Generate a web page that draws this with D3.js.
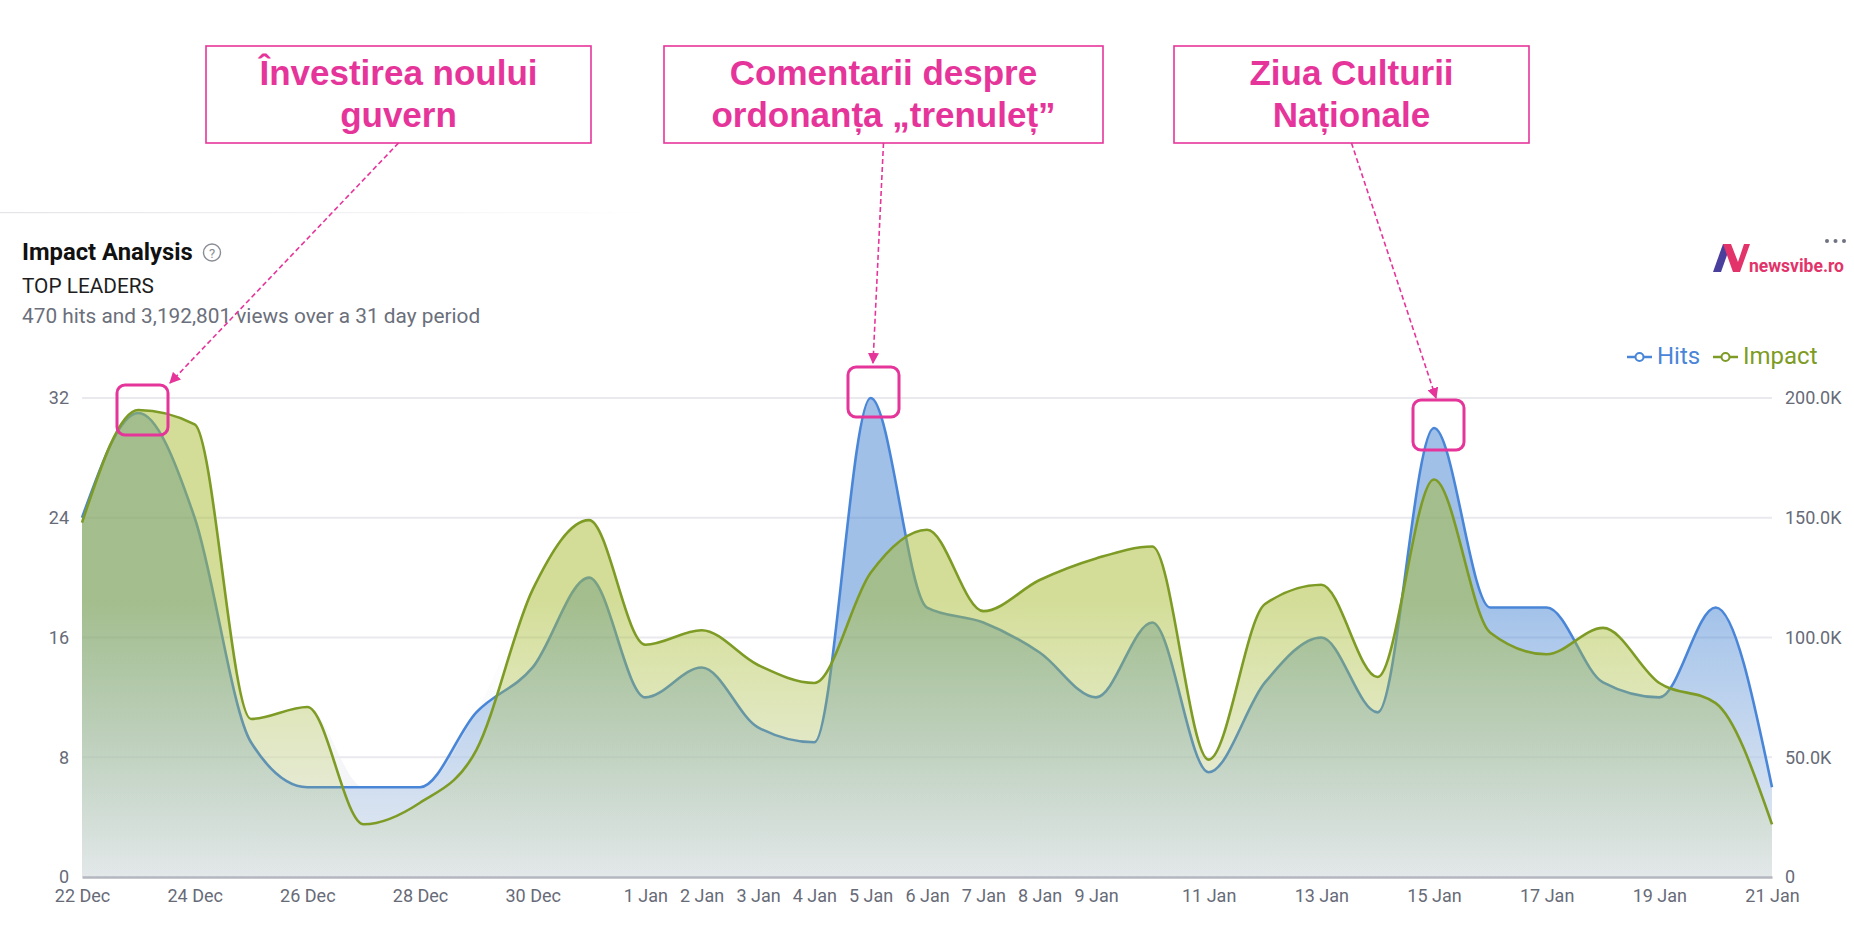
<!DOCTYPE html>
<html>
<head>
<meta charset="utf-8">
<script src="https://cdn.jsdelivr.net/npm/d3@7"></script>
<style>
  html, body { margin: 0; padding: 0; background: #ffffff; }
  svg { display: block; }
</style>
</head>
<body>
<svg id="chart" width="1854" height="930"></svg>
<script>
// ---------- DATA ----------
const dates = ["2024-12-22","2024-12-23","2024-12-24","2024-12-25","2024-12-26","2024-12-27","2024-12-28",
  "2024-12-29","2024-12-30","2024-12-31","2025-01-01","2025-01-02","2025-01-03","2025-01-04","2025-01-05",
  "2025-01-06","2025-01-07","2025-01-08","2025-01-09","2025-01-10","2025-01-11","2025-01-12","2025-01-13",
  "2025-01-14","2025-01-15","2025-01-16","2025-01-17","2025-01-18","2025-01-19","2025-01-20","2025-01-21"];
const hits = [24,31,24,9,6,6,6,11,14,20,12,14,10,9,32,18,17,15,12,17,7,13,16,11,30,18,18,13,12,18,6];
const impact = [148000,195000,189000,66000,71000,22000,31000,53000,120000,149000,97000,103000,88500,81000,127000,
  145000,111000,124000,133000,138000,49000,114000,122000,83500,166000,102000,93000,104000,81000,72600,22000];
const xTickDates = ["2024-12-22","2024-12-24","2024-12-26","2024-12-28","2024-12-30","2025-01-01","2025-01-02",
  "2025-01-03","2025-01-04","2025-01-05","2025-01-06","2025-01-07","2025-01-08","2025-01-09","2025-01-11",
  "2025-01-13","2025-01-15","2025-01-17","2025-01-19","2025-01-21"];
const hitsTicks = [0, 8, 16, 24, 32];
const impactTicks = [0, 50000, 100000, 150000, 200000];
const seriesNames = ["Hits", "Impact"];
const annotations = [
  { lines: ["Învestirea noului", "guvern"], dateIdx: 1 },
  { lines: ["Comentarii despre", "ordonanța „trenuleț”"], dateIdx: 14 },
  { lines: ["Ziua Culturii", "Naționale"], dateIdx: 24 }
];

// ---------- SETUP ----------
const svg = d3.select("#chart");
const parse = d3.utcParse("%Y-%m-%d");
const data = dates.map((d, i) => ({ date: parse(d), hits: hits[i], impact: impact[i] }));

const plot = { left: 82, right: 1772, top: 398, bottom: 877 };
const x = d3.scaleUtc().domain([parse(dates[0]), parse(dates[dates.length - 1])]).range([plot.left, plot.right]);
const yL = d3.scaleLinear().domain([0, 32]).range([plot.bottom, plot.top]);
const yR = d3.scaleLinear().domain([0, 200000]).range([plot.bottom, plot.top]);

const BLUE = "#4a86d8";
const OLIVE = "#7d9b25";
const PINK = "#e6359a";
const AXIS_TXT = "#676b78";
const FONT = "Roboto, 'Noto Sans', sans-serif";

// Card border hint
const defs = svg.append("defs");
const cardGrad = defs.append("linearGradient").attr("id", "cardGrad").attr("x1", 0).attr("x2", 1).attr("y1", 0).attr("y2", 0);
cardGrad.append("stop").attr("offset", 0).attr("stop-color", "#e4e4e8").attr("stop-opacity", 1);
cardGrad.append("stop").attr("offset", 1).attr("stop-color", "#e4e4e8").attr("stop-opacity", 0);
svg.append("rect").attr("x", 0).attr("y", 212).attr("width", 660).attr("height", 1.2).attr("fill", "url(#cardGrad)");

// Gradients for area fills
function areaGrad(id, color, topOp) {
  const g = defs.append("linearGradient").attr("id", id)
    .attr("gradientUnits", "userSpaceOnUse")
    .attr("x1", 0).attr("x2", 0).attr("y1", plot.top).attr("y2", plot.bottom);
  g.append("stop").attr("offset", 0).attr("stop-color", color).attr("stop-opacity", topOp);
  g.append("stop").attr("offset", 0.42).attr("stop-color", color).attr("stop-opacity", topOp);
  g.append("stop").attr("offset", 1).attr("stop-color", color).attr("stop-opacity", 0.04);
}
areaGrad("hitsGrad", "#4181d1", 0.5);
areaGrad("impGrad", "#a7bb31", 0.5);
// bottom grey tint
const bg = defs.append("linearGradient").attr("id", "bgGrad")
  .attr("gradientUnits", "userSpaceOnUse").attr("x1", 0).attr("x2", 0).attr("y1", plot.top).attr("y2", plot.bottom);
bg.append("stop").attr("offset", 0.5).attr("stop-color", "#eceef2").attr("stop-opacity", 0);
bg.append("stop").attr("offset", 1).attr("stop-color", "#eceef2").attr("stop-opacity", 1);

// ---------- GRID ----------
svg.append("g").selectAll("line").data(hitsTicks.slice(1)).join("line")
  .attr("x1", plot.left).attr("x2", plot.right)
  .attr("y1", d => yL(d)).attr("y2", d => yL(d))
  .attr("stroke", "#e9e9ee").attr("stroke-width", 2);

// ---------- AREAS / LINES ----------
const curve = d3.curveMonotoneX;
const areaH = d3.area().x(d => x(d.date)).y0(plot.bottom).y1(d => yL(d.hits)).curve(curve);
const areaI = d3.area().x(d => x(d.date)).y0(plot.bottom).y1(d => yR(d.impact)).curve(curve);
const lineH = d3.line().x(d => x(d.date)).y(d => yL(d.hits)).curve(curve);
const lineI = d3.line().x(d => x(d.date)).y(d => yR(d.impact)).curve(curve);

// union grey tint under both
svg.append("path").datum(data).attr("d", d3.area().x(d => x(d.date)).y0(plot.bottom)
  .y1(d => Math.min(yL(d.hits), yR(d.impact))).curve(curve)).attr("fill", "url(#bgGrad)");

svg.append("path").datum(data).attr("d", areaH).attr("fill", "url(#hitsGrad)");
svg.append("path").datum(data).attr("d", lineH).attr("fill", "none").attr("stroke", BLUE).attr("stroke-width", 2.6);
svg.append("path").datum(data).attr("d", areaI).attr("fill", "url(#impGrad)");
svg.append("path").datum(data).attr("d", lineI).attr("fill", "none").attr("stroke", OLIVE).attr("stroke-width", 2.6);

// ---------- AXES ----------
const xAxis = d3.axisBottom(x).tickValues(xTickDates.map(parse)).tickFormat(d3.utcFormat("%-d %b")).tickSize(0).tickPadding(0);
const gx = svg.append("g").attr("transform", `translate(0,${plot.bottom})`).call(xAxis);
gx.select(".domain").attr("stroke", "#b4b6c0").attr("stroke-width", 2.5);
gx.selectAll("text").attr("font-family", FONT).attr("font-size", 18).attr("fill", AXIS_TXT).attr("dy", null).attr("y", 25);

const yAxisL = d3.axisLeft(yL).tickValues(hitsTicks).tickSize(0).tickPadding(0);
const gyl = svg.append("g").attr("transform", `translate(${plot.left - 13},0)`).call(yAxisL);
gyl.select(".domain").remove();
gyl.selectAll("text").attr("font-family", FONT).attr("font-size", 18).attr("fill", AXIS_TXT);

const yAxisR = d3.axisRight(yR).tickValues(impactTicks)
  .tickFormat(d => d === 0 ? "0" : (d / 1000).toFixed(1) + "K").tickSize(0).tickPadding(0);
const gyr = svg.append("g").attr("transform", `translate(${plot.right + 13},0)`).call(yAxisR);
gyr.select(".domain").remove();
gyr.selectAll("text").attr("font-family", FONT).attr("font-size", 18).attr("fill", AXIS_TXT);

// ---------- HEADER ----------
svg.append("text").attr("x", 22).attr("y", 260).text("Impact Analysis")
  .attr("font-family", FONT).attr("font-weight", 700).attr("font-size", 23.8).attr("fill", "#111");
svg.append("circle").attr("cx", 212).attr("cy", 252.5).attr("r", 8.5).attr("fill", "none").attr("stroke", "#8a8d96").attr("stroke-width", 1.4);
svg.append("text").attr("x", 212).attr("y", 257.5).attr("text-anchor", "middle").text("?")
  .attr("font-family", FONT).attr("font-size", 13).attr("fill", "#8a8d96");
svg.append("text").attr("x", 22).attr("y", 293).text("TOP LEADERS")
  .attr("font-family", FONT).attr("font-size", 20.8).attr("fill", "#1e1e22");
svg.append("text").attr("x", 22).attr("y", 323).text("470 hits and 3,192,801 views over a 31 day period")
  .attr("font-family", FONT).attr("font-size", 20.8).attr("fill", "#6b6f7b");

// Logo
const logo = svg.append("g");
logo.append("path").attr("d", "M1713,272 L1723,244 L1731,244 L1721,272 Z").attr("fill", "#4b3f9e");
logo.append("path").attr("d", "M1723,244 L1731,244 L1738,262 L1744,244 L1750,244 L1740,272 L1733,272 Z").attr("fill", "#e2336a");
logo.append("text").attr("x", 1749).attr("y", 272).text("newsvibe.ro")
  .attr("font-family", FONT).attr("font-weight", 700).attr("font-size", 17.5).attr("fill", "#e2336a");
svg.append("g").selectAll("circle").data([0, 1, 2]).join("circle")
  .attr("cx", d => 1827 + d * 8.5).attr("cy", 241).attr("r", 2).attr("fill", "#6f7280");

// Legend
const legend = svg.append("g");
[{ name: seriesNames[0], color: BLUE, x0: 1627, tx: 1657 }, { name: seriesNames[1], color: OLIVE, x0: 1713, tx: 1743 }]
  .forEach(s => {
    legend.append("line").attr("x1", s.x0).attr("x2", s.x0 + 25).attr("y1", 357).attr("y2", 357)
      .attr("stroke", s.color).attr("stroke-width", 2.5);
    legend.append("circle").attr("cx", s.x0 + 12.5).attr("cy", 357).attr("r", 4).attr("fill", "#fff")
      .attr("stroke", s.color).attr("stroke-width", 2);
    legend.append("text").attr("x", s.tx).attr("y", 364).text(s.name)
      .attr("font-family", FONT).attr("font-size", 24).attr("fill", s.color);
  });

// ---------- ANNOTATIONS ----------
defs.append("marker").attr("id", "arrow").attr("viewBox", "0 0 10 10").attr("refX", 9).attr("refY", 5)
  .attr("markerWidth", 7).attr("markerHeight", 7).attr("orient", "auto-start-reverse")
  .append("path").attr("d", "M0,0 L10,5 L0,10 Z").attr("fill", PINK);

const boxes = [
  { x0: 206, x1: 591, hx: 117, hy: 385, arrowEnd: [170, 383] },
  { x0: 664, x1: 1103, hx: 848, hy: 367, arrowEnd: [873, 363] },
  { x0: 1174, x1: 1529, hx: 1413, hy: 400, arrowEnd: [1436, 398] }
];
annotations.forEach((a, i) => {
  const b = boxes[i];
  const cx = (b.x0 + b.x1) / 2;
  svg.append("rect").attr("x", b.x0).attr("y", 46).attr("width", b.x1 - b.x0).attr("height", 97)
    .attr("fill", "#fff").attr("stroke", PINK).attr("stroke-width", 1.6);
  a.lines.forEach((t, j) => {
    svg.append("text").attr("x", cx).attr("y", 85 + j * 42).attr("text-anchor", "middle").text(t)
      .attr("font-family", "'Liberation Sans', Arial, sans-serif").attr("font-weight", 700)
      .attr("font-size", 35).attr("fill", PINK);
  });
  svg.append("line").attr("x1", cx).attr("y1", 143).attr("x2", b.arrowEnd[0]).attr("y2", b.arrowEnd[1])
    .attr("stroke", PINK).attr("stroke-width", 1.6).attr("stroke-dasharray", "5,3").attr("marker-end", "url(#arrow)");
  svg.append("rect").attr("x", b.hx).attr("y", b.hy).attr("width", 51).attr("height", 50).attr("rx", 8)
    .attr("fill", "none").attr("stroke", PINK).attr("stroke-width", 3);
});
</script>
</body>
</html>
